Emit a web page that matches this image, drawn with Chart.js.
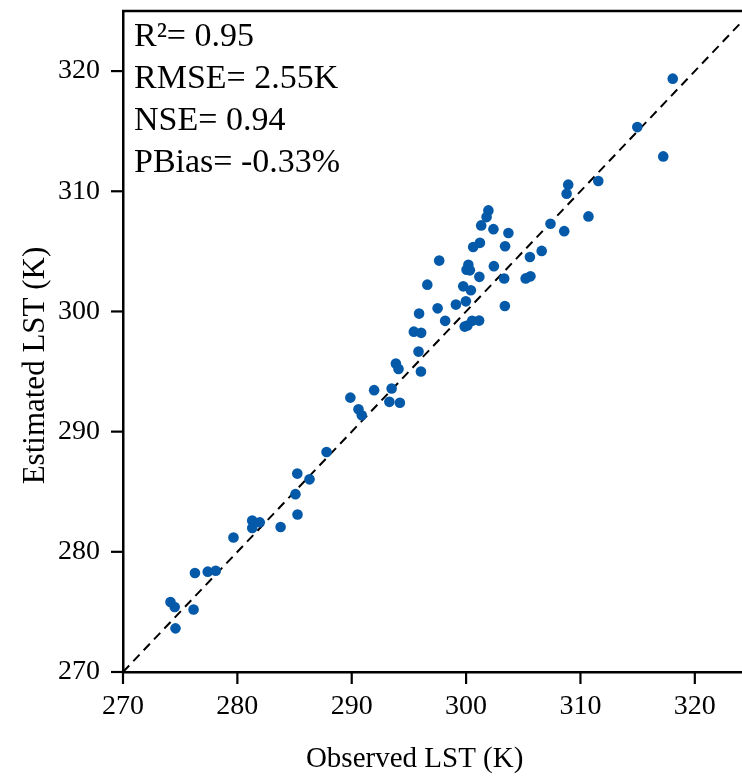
<!DOCTYPE html>
<html>
<head>
<meta charset="utf-8">
<script src="https://cdn.jsdelivr.net/npm/chart.js@4.4.1/dist/chart.umd.min.js"></script>
<style>
  html, body { margin: 0; padding: 0; background: #fff; overflow: hidden; }
  #wrap { width: 760px; height: 776px; }
</style>
</head>
<body>
<div id="wrap"><canvas id="graficoLST"></canvas></div>
<script>
// valores (K)
const observed = [
  318.07, 314.97, 317.24, 311.56, 308.93, 308.79, 310.70, 307.38, 308.58, 306.61,
  305.58, 305.21, 305.63, 303.33, 302.43, 303.41, 303.70, 302.39, 301.95, 301.79,
  301.32, 301.21, 300.62, 301.16, 303.39, 301.14, 300.53, 300.11, 299.88, 300.20,
  300.04, 300.33, 299.75, 300.42, 299.98, 299.11, 297.65, 296.61, 297.51, 298.17,
  295.89, 295.43, 296.07, 295.84, 293.86, 294.09, 296.05, 291.96, 293.49, 293.29,
  294.21, 289.88, 290.59, 290.88, 287.80, 285.24, 286.31, 285.08, 285.26, 281.30,
  281.96, 281.30, 283.78, 279.66, 276.29, 277.41, 278.11, 274.15, 274.52, 276.17,
  274.59
];
const estimated = [
  319.37, 315.34, 312.90, 310.85, 310.55, 309.80, 307.91, 307.30, 306.68, 305.04,
  304.53, 302.75, 302.92, 302.74, 303.77, 305.43, 306.53, 306.85, 308.41, 307.85,
  307.16, 305.71, 305.36, 302.88, 300.45, 299.24, 299.22, 298.83, 298.74, 303.88,
  303.48, 303.42, 302.09, 301.76, 300.84, 300.57, 304.23, 302.23, 300.26, 299.22,
  299.82, 298.32, 298.22, 296.66, 295.66, 295.22, 295.00, 293.45, 293.59, 292.48,
  292.40, 292.83, 291.86, 291.36, 288.30, 286.51, 286.03, 284.80, 283.10, 282.60,
  282.45, 281.98, 282.06, 281.19, 278.24, 278.35, 278.42, 275.82, 275.41, 275.20,
  273.63
];
const oneToOne = [270, 325];
const statsLines = ['R\u00B2= 0.95', 'RMSE= 2.55K', 'NSE= 0.94', 'PBias= -0.33%'];
const xTitle = 'Observed LST (K)';
const yTitle = 'Estimated LST (K)';
const titleCenter = 295.5;

const serif = '"Liberation Serif", "Times New Roman", serif';

// ticks, marco superior, textos y titulos
const decor = {
  id: 'decor',
  afterDraw(chart) {
    const {ctx, chartArea, scales} = chart;
    const x = scales.x, y = scales.y;
    ctx.save();
    ctx.strokeStyle = '#000';
    ctx.lineWidth = 2.5;
    ctx.beginPath();
    ctx.moveTo(chartArea.left - 1, chartArea.top);
    ctx.lineTo(chartArea.right, chartArea.top);
    ctx.stroke();

    ctx.lineWidth = 2.2;
    x.ticks.forEach(t => {
      const px = x.getPixelForValue(t.value);
      const len = t.value % 10 === 0 ? 12 : 6;
      ctx.beginPath();
      ctx.moveTo(px, chartArea.bottom);
      ctx.lineTo(px, chartArea.bottom + len);
      ctx.stroke();
    });
    y.ticks.forEach(t => {
      const py = y.getPixelForValue(t.value);
      const len = t.value % 10 === 0 ? 12 : 6;
      ctx.beginPath();
      ctx.moveTo(chartArea.left, py);
      ctx.lineTo(chartArea.left - len, py);
      ctx.stroke();
    });

    ctx.fillStyle = '#000';
    ctx.font = '34px ' + serif;
    ctx.textAlign = 'left';
    ctx.textBaseline = 'alphabetic';
    statsLines.forEach((s, i) => {
      ctx.fillText(s, chartArea.left + 11, chartArea.top + 35 + i * 42);
    });

    ctx.textAlign = 'center';
    ctx.font = '29px ' + serif;
    ctx.fillText(xTitle, x.getPixelForValue(titleCenter), 767);
    ctx.font = '31px ' + serif;
    ctx.translate(44, y.getPixelForValue(titleCenter));
    ctx.rotate(-Math.PI / 2);
    ctx.fillText(yTitle, 0, 0);
    ctx.restore();
  }
};

const tickLabel = v => (v % 10 === 0 && v <= 320 ? String(v) : null);

const ctx = document.getElementById('graficoLST').getContext('2d');
new Chart(ctx, {
  type: 'scatter',
  data: {
    datasets: [
      {
        label: 'LST',
        data: observed.map((v, i) => ({x: v, y: estimated[i]})),
        backgroundColor: '#045aa9',
        borderColor: '#045aa9',
        pointRadius: 5.3,
        pointHoverRadius: 5.3,
        borderWidth: 0,
        order: 1
      },
      {
        label: '1:1',
        type: 'line',
        data: oneToOne.map(v => ({x: v, y: v})),
        borderColor: '#000',
        borderWidth: 2,
        borderDash: [9, 6],
        pointRadius: 0,
        fill: false,
        order: 2
      }
    ]
  },
  options: {
    responsive: true,
    maintainAspectRatio: false,
    animation: false,
    layout: { padding: { left: 0, top: 11, right: 8, bottom: 0 } },
    plugins: { legend: { display: false }, tooltip: { enabled: false } },
    scales: {
      x: {
        type: 'linear',
        min: 270,
        max: 325,
        afterFit: s => { s.height = 104; s.paddingLeft = 0; s.paddingRight = 0; },
        grid: { display: true, drawOnChartArea: false, drawTicks: false },
        border: { display: true, color: '#000', width: 2.5 },
        ticks: {
          stepSize: 5,
          padding: 18,
          color: '#000',
          font: { family: serif, size: 28 },
          maxRotation: 0,
          autoSkip: false,
          callback: tickLabel
        }
      },
      y: {
        type: 'linear',
        min: 270,
        max: 325,
        afterFit: s => { s.width = 123; s.paddingTop = 0; s.paddingBottom = 0; },
        grid: { display: true, drawOnChartArea: false, drawTicks: false },
        border: { display: true, color: '#000', width: 2.5 },
        ticks: {
          stepSize: 5,
          padding: 23,
          color: '#000',
          font: { family: serif, size: 28 },
          autoSkip: false,
          callback: tickLabel
        }
      }
    }
  },
  plugins: [decor]
});
</script>
</body>
</html>
